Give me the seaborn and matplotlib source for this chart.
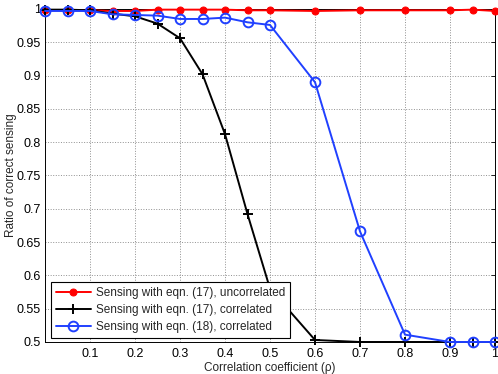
import pandas as pd
import seaborn as sns
import matplotlib.pyplot as plt

# correlation coefficient values
rho = [0, 0.05, 0.1, 0.15, 0.2, 0.25, 0.3, 0.35, 0.4, 0.45,
       0.5, 0.6, 0.7, 0.8, 0.9, 0.95, 1.0]

# ratio of correct sensing for each method
eq17_uncorr = [0.998, 0.998, 0.998, 0.997, 0.997, 0.999, 0.999, 0.999, 0.999,
               0.998, 0.998, 0.997, 0.998, 0.998, 0.998, 0.999, 0.997]
eq17_corr = [0.999, 0.999, 0.998, 0.993, 0.989, 0.978, 0.956, 0.902, 0.812,
             0.692, 0.58, 0.503, 0.5, 0.5, 0.5, 0.5, 0.5]
eq18_corr = [0.997, 0.997, 0.997, 0.992, 0.991, 0.990, 0.985, 0.985, 0.987,
             0.980, 0.976, 0.890, 0.666, 0.511, 0.5, 0.5, 0.5]

labels = ['Sensing with eqn. (17), uncorrelated',
          'Sensing with eqn. (17), correlated',
          'Sensing with eqn. (18), correlated']

xticks = [0.1, 0.2, 0.3, 0.4, 0.5, 0.6, 0.7, 0.8, 0.9, 1.0]
xticklabels = ['0.1', '0.2', '0.3', '0.4', '0.5', '0.6', '0.7', '0.8', '0.9', '1']
yticks = [0.5, 0.55, 0.6, 0.65, 0.7, 0.75, 0.8, 0.85, 0.9, 0.95, 1.0]
yticklabels = ['0.5', '0.55', '0.6', '0.65', '0.7', '0.75', '0.8', '0.85',
               '0.9', '0.95', '1']

df = pd.DataFrame({'rho': rho, 'uncorr17': eq17_uncorr,
                   'corr17': eq17_corr, 'corr18': eq18_corr})

sns.set_style('white')
plt.rcParams['font.family'] = ['Liberation Sans', 'DejaVu Sans']
plt.rcParams['font.size'] = 9

fig, ax = plt.subplots(figsize=(4.98, 3.74), dpi=100)
fig.subplots_adjust(left=0.0904, right=0.994, bottom=0.0856, top=0.976)

sns.lineplot(data=df, x='rho', y='uncorr17', ax=ax, color='#ff0000',
             marker='o', markersize=5, markeredgecolor='#ff0000',
             linewidth=1.4, label=labels[0], clip_on=False, zorder=3)
sns.lineplot(data=df, x='rho', y='corr17', ax=ax, color='black',
             marker='+', markersize=7.5, markeredgewidth=1.4,
             markeredgecolor='black',
             linewidth=1.4, label=labels[1], clip_on=False, zorder=4)
sns.lineplot(data=df, x='rho', y='corr18', ax=ax, color='#2040ff',
             marker='o', markersize=7, markerfacecolor='none',
             markeredgecolor='#2040ff', markeredgewidth=1.4,
             linewidth=1.4, label=labels[2], clip_on=False, zorder=5)

ax.set_xlim(0, 1)
ax.set_ylim(0.5, 1)
ax.set_xticks(xticks, labels=xticklabels)
ax.set_yticks(yticks, labels=yticklabels)
ax.tick_params(axis='both', direction='in', length=3, width=0.6, top=True,
               right=True, labelsize=9, colors='black')
ax.tick_params(axis='x', pad=4)
ax.tick_params(axis='y', pad=3)
ax.grid(True, linestyle=':', color='#909090', linewidth=0.7)
for sp in ax.spines.values():
    sp.set_color('black')
    sp.set_linewidth(0.7)
ax.set_xlabel('Correlation coefficient (\u03c1)', fontsize=8.5, labelpad=2)
ax.set_ylabel('Ratio of correct sensing', fontsize=8.5, labelpad=0)

leg = ax.legend(loc='lower left', bbox_to_anchor=(0.0127, 0.011),
                borderaxespad=0, fontsize=8.5, fancybox=False, framealpha=1,
                edgecolor='black', handlelength=3.0, handletextpad=0.4,
                labelspacing=0.45, borderpad=0.42)
leg.get_frame().set_linewidth(0.8)
leg.set_zorder(10)

fig.savefig('out.png', dpi=100)
